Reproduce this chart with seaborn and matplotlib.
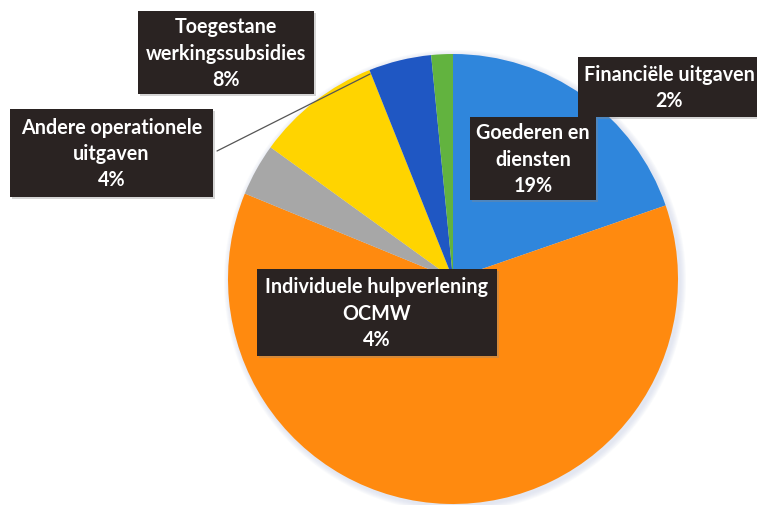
import numpy as np
import matplotlib
matplotlib.use('Agg')
import matplotlib.pyplot as plt
from matplotlib.patches import Rectangle, Circle
import seaborn as sns


# slices, clockwise from 12 o'clock
slice_names = ['Goederen en diensten', 'Individuele hulpverlening OCMW', 'Andere operationele uitgaven',
               'Toegestane werkingssubsidies', 'Overige', 'Financiële uitgaven']
slice_values = [19.7, 61.5, 3.75, 9.0, 4.5, 1.55]
slice_colors = ['#2f86dc', '#ff8a0f', '#a7a7a7', '#ffd400', '#1f57c3', '#62b33f']

# label boxes as printed on the chart (text, box left/top/right/bottom in px)
label_texts = ['Toegestane\nwerkingssubsidies\n8%',
               'Andere operationele\nuitgaven\n4%',
               'Goederen en\ndiensten\n19%',
               'Financiële uitgaven\n2%',
               'Individuele hulpverlening\nOCMW\n4%']
label_boxes = [(138, 12, 314, 95),
               (10, 110, 213, 198),
               (470, 118, 596, 201),
               (578, 58, 760, 118),
               (257, 270, 497, 357)]

W, H = 757, 506
CX, CY, R = 453, 280, 225
BOX_COLOR = '#2a2322'


def flip(y):
	return H - y


sns.set_theme(style='white')
plt.rcParams['font.family'] = ['Lato', 'DejaVu Sans']

fig = plt.figure(figsize=(W/100, H/100), dpi=100)
ax = fig.add_axes([0, 0, 1, 1])

# soft halo around the pie
for k in range(6, 0, -1):
	ax.add_patch(Circle((CX + 2, flip(CY) - 2), R + k, color='#c9d2e6', alpha=0.10, lw=0, zorder=0))

ax.pie(slice_values, colors=slice_colors, startangle=90, counterclock=False,
       center=(CX, flip(CY)), radius=R, wedgeprops=dict(linewidth=0), frame=True)

# leader line
ax.plot([217, 370], [flip(152), flip(75)], color='#555555', lw=0.9, zorder=3)

for txt, (x0, y0, x1, y1) in zip(label_texts, label_boxes):
	ax.add_patch(Rectangle((x0 + 2, flip(y1) - 2), x1 - x0, y1 - y0, color='#888888', alpha=0.35, lw=0, zorder=4))
	ax.add_patch(Rectangle((x0, flip(y1)), x1 - x0, y1 - y0, color=BOX_COLOR, lw=0, zorder=5))
	ax.text((x0 + x1)/2 if x1 < W else 669, flip((y0 + y1)/2), txt, color='white', ha='center', va='center',
	        fontsize=14.2, fontweight='bold', linespacing=1.38, zorder=6)

ax.set_xlim(0, W)
ax.set_ylim(0, H)
ax.set_aspect('equal')
ax.axis('off')

fig.savefig('out.png', dpi=100)
